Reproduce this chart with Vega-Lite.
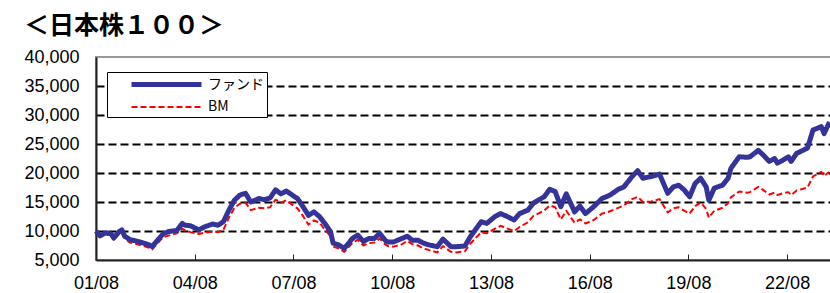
{
  "$schema": "https://vega.github.io/schema/vega-lite/v6.json",
  "width": 735,
  "height": 203,
  "autosize": "none",
  "padding": {"left": 96, "top": 57, "right": 0, "bottom": 33},
  "background": "white",
  "title": {"text": "＜日本株１００＞", "anchor": "start", "frame": "group", "dx": -72, "offset": -11, "baseline": "alphabetic", "font": "Noto Sans CJK JP", "fontSize": 25, "fontWeight": "bold", "color": "black"},
  "config": {"view": {"stroke": "#999999", "strokeWidth": 2}, "font": "Liberation Sans"},
  "datasets": {
    "fund": [
      {"d":"2001-08-01","v":10000},{"d":"2001-09-15","v":9150},{"d":"2001-11-15","v":9700},{"d":"2002-01-15","v":9500},{"d":"2002-02-15","v":8800},{"d":"2002-04-15","v":9900},{"d":"2002-05-15","v":10200},{"d":"2002-06-15","v":9100},{"d":"2002-08-15","v":8500},{"d":"2002-10-15","v":8300},{"d":"2003-01-15","v":7900},{"d":"2003-03-15","v":7600},{"d":"2003-04-15","v":7300},{"d":"2003-06-15","v":8400},{"d":"2003-08-15","v":9500},{"d":"2003-10-15","v":9900},{"d":"2004-01-15","v":10100},{"d":"2004-03-15","v":11300},{"d":"2004-04-15","v":11000},{"d":"2004-06-15","v":10900},{"d":"2004-09-15","v":10200},{"d":"2004-11-15","v":10700},{"d":"2005-02-15","v":11200},{"d":"2005-04-15","v":11000},{"d":"2005-06-15","v":11600},{"d":"2005-08-15","v":13600},{"d":"2005-10-15","v":15300},{"d":"2005-12-15","v":16200},{"d":"2006-02-15","v":16500},{"d":"2006-04-15","v":15000},{"d":"2006-07-15","v":15600},{"d":"2006-09-15","v":15400},{"d":"2006-11-15","v":15700},{"d":"2007-01-15","v":17100},{"d":"2007-03-15","v":16400},{"d":"2007-05-15","v":16900},{"d":"2007-08-15","v":15900},{"d":"2007-09-15","v":15600},{"d":"2007-11-15","v":14200},{"d":"2008-01-15","v":12700},{"d":"2008-03-15","v":13300},{"d":"2008-05-15","v":12500},{"d":"2008-07-15","v":11300},{"d":"2008-09-15","v":9900},{"d":"2008-10-15","v":7900},{"d":"2008-12-15","v":7600},{"d":"2009-02-15","v":7000},{"d":"2009-04-15","v":8100},{"d":"2009-05-15","v":8700},{"d":"2009-07-15","v":9300},{"d":"2009-09-15","v":8200},{"d":"2009-11-15","v":8700},{"d":"2010-01-15","v":8700},{"d":"2010-03-15","v":9600},{"d":"2010-05-15","v":8400},{"d":"2010-06-15","v":8100},{"d":"2010-08-15","v":8100},{"d":"2010-11-15","v":8700},{"d":"2011-01-15","v":9100},{"d":"2011-03-15","v":8400},{"d":"2011-05-15","v":8400},{"d":"2011-07-15","v":7900},{"d":"2011-09-15","v":7600},{"d":"2011-12-15","v":7300},{"d":"2012-02-15","v":8600},{"d":"2012-05-15","v":7300},{"d":"2012-07-15","v":7300},{"d":"2012-10-15","v":7400},{"d":"2012-12-15","v":9000},{"d":"2013-04-15","v":11600},{"d":"2013-06-15","v":11300},{"d":"2013-09-15","v":12500},{"d":"2013-11-15","v":13000},{"d":"2014-01-15","v":12600},{"d":"2014-04-15","v":11900},{"d":"2014-06-15","v":13000},{"d":"2014-09-15","v":13600},{"d":"2014-11-15","v":14800},{"d":"2015-03-15","v":15900},{"d":"2015-05-15","v":17200},{"d":"2015-07-15","v":16800},{"d":"2015-09-15","v":14200},{"d":"2015-11-15","v":16400},{"d":"2016-02-15","v":13300},{"d":"2016-04-15","v":14300},{"d":"2016-06-15","v":13000},{"d":"2016-09-15","v":14200},{"d":"2016-12-15","v":15600},{"d":"2017-03-15","v":16200},{"d":"2017-06-15","v":17200},{"d":"2017-08-15","v":17600},{"d":"2017-11-15","v":19400},{"d":"2018-01-15","v":20400},{"d":"2018-03-15","v":19100},{"d":"2018-06-15","v":19400},{"d":"2018-09-15","v":19800},{"d":"2018-12-15","v":16500},{"d":"2019-02-15","v":17600},{"d":"2019-04-15","v":17900},{"d":"2019-06-15","v":17100},{"d":"2019-08-15","v":15900},{"d":"2019-10-15","v":18200},{"d":"2019-12-15","v":19100},{"d":"2020-02-15","v":17600},{"d":"2020-03-15","v":15300},{"d":"2020-05-15","v":17400},{"d":"2020-08-15","v":17900},{"d":"2020-10-15","v":19100},{"d":"2020-11-15","v":20800},{"d":"2021-02-15","v":22800},{"d":"2021-05-15","v":22700},{"d":"2021-06-15","v":22800},{"d":"2021-09-15","v":23900},{"d":"2021-11-15","v":23000},{"d":"2022-01-15","v":22000},{"d":"2022-03-15","v":22500},{"d":"2022-04-15","v":21700},{"d":"2022-06-15","v":22200},{"d":"2022-08-15","v":22800},{"d":"2022-09-15","v":22000},{"d":"2022-11-15","v":23400},{"d":"2022-12-15","v":23600},{"d":"2023-03-15","v":24300},{"d":"2023-05-15","v":27400},{"d":"2023-08-15","v":28000},{"d":"2023-09-15","v":26800},{"d":"2023-11-15","v":28800}
    ],
    "bm": [
      {"d":"2001-08-01","v":9800},{"d":"2001-09-15","v":9000},{"d":"2001-11-15","v":9500},{"d":"2002-01-15","v":9200},{"d":"2002-02-15","v":8500},{"d":"2002-04-15","v":9600},{"d":"2002-05-15","v":9900},{"d":"2002-06-15","v":8700},{"d":"2002-08-15","v":8000},{"d":"2002-10-15","v":7800},{"d":"2003-01-15","v":7400},{"d":"2003-03-15","v":7100},{"d":"2003-04-15","v":6800},{"d":"2003-06-15","v":7900},{"d":"2003-08-15","v":8900},{"d":"2003-10-15","v":9200},{"d":"2004-01-15","v":9600},{"d":"2004-03-15","v":10400},{"d":"2004-04-15","v":10100},{"d":"2004-06-15","v":9800},{"d":"2004-09-15","v":9500},{"d":"2004-11-15","v":9700},{"d":"2005-02-15","v":9900},{"d":"2005-04-15","v":9800},{"d":"2005-06-15","v":10200},{"d":"2005-08-15","v":12300},{"d":"2005-10-15","v":14000},{"d":"2005-12-15","v":14700},{"d":"2006-02-15","v":14900},{"d":"2006-04-15","v":13600},{"d":"2006-07-15","v":14000},{"d":"2006-09-15","v":13900},{"d":"2006-11-15","v":14100},{"d":"2007-01-15","v":15400},{"d":"2007-03-15","v":14900},{"d":"2007-05-15","v":15300},{"d":"2007-08-15","v":14200},{"d":"2007-09-15","v":13900},{"d":"2007-11-15","v":12600},{"d":"2008-01-15","v":11100},{"d":"2008-03-15","v":11800},{"d":"2008-05-15","v":11500},{"d":"2008-07-15","v":10200},{"d":"2008-09-15","v":9100},{"d":"2008-10-15","v":7300},{"d":"2008-12-15","v":7000},{"d":"2009-02-15","v":6400},{"d":"2009-04-15","v":7400},{"d":"2009-05-15","v":7900},{"d":"2009-07-15","v":8500},{"d":"2009-09-15","v":7500},{"d":"2009-11-15","v":7900},{"d":"2010-01-15","v":8000},{"d":"2010-03-15","v":8700},{"d":"2010-05-15","v":7700},{"d":"2010-06-15","v":7400},{"d":"2010-08-15","v":7300},{"d":"2010-11-15","v":7700},{"d":"2011-01-15","v":8300},{"d":"2011-03-15","v":7700},{"d":"2011-05-15","v":7500},{"d":"2011-07-15","v":7000},{"d":"2011-09-15","v":6700},{"d":"2011-12-15","v":6300},{"d":"2012-02-15","v":7400},{"d":"2012-05-15","v":6400},{"d":"2012-07-15","v":6300},{"d":"2012-10-15","v":6500},{"d":"2012-12-15","v":7800},{"d":"2013-04-15","v":9800},{"d":"2013-06-15","v":9600},{"d":"2013-09-15","v":10400},{"d":"2013-11-15","v":10900},{"d":"2014-01-15","v":10500},{"d":"2014-04-15","v":10000},{"d":"2014-06-15","v":10700},{"d":"2014-09-15","v":11500},{"d":"2014-11-15","v":12600},{"d":"2015-03-15","v":13500},{"d":"2015-05-15","v":14400},{"d":"2015-07-15","v":14100},{"d":"2015-09-15","v":12000},{"d":"2015-11-15","v":13500},{"d":"2016-02-15","v":11400},{"d":"2016-04-15","v":12000},{"d":"2016-06-15","v":11300},{"d":"2016-09-15","v":11900},{"d":"2016-12-15","v":13000},{"d":"2017-03-15","v":13400},{"d":"2017-06-15","v":14000},{"d":"2017-08-15","v":14400},{"d":"2017-11-15","v":15500},{"d":"2018-01-15","v":15900},{"d":"2018-03-15","v":15000},{"d":"2018-06-15","v":15100},{"d":"2018-09-15","v":15500},{"d":"2018-12-15","v":13200},{"d":"2019-02-15","v":13900},{"d":"2019-04-15","v":14100},{"d":"2019-06-15","v":13500},{"d":"2019-08-15","v":13000},{"d":"2019-10-15","v":14300},{"d":"2019-12-15","v":14900},{"d":"2020-02-15","v":13800},{"d":"2020-03-15","v":12300},{"d":"2020-05-15","v":13500},{"d":"2020-08-15","v":14000},{"d":"2020-10-15","v":14800},{"d":"2020-11-15","v":15800},{"d":"2021-02-15","v":16800},{"d":"2021-05-15","v":16600},{"d":"2021-06-15","v":16700},{"d":"2021-09-15","v":17600},{"d":"2021-11-15","v":17000},{"d":"2022-01-15","v":16300},{"d":"2022-03-15","v":16600},{"d":"2022-04-15","v":16200},{"d":"2022-06-15","v":16500},{"d":"2022-08-15","v":16700},{"d":"2022-09-15","v":16200},{"d":"2022-11-15","v":17000},{"d":"2022-12-15","v":17100},{"d":"2023-03-15","v":17500},{"d":"2023-05-15","v":19400},{"d":"2023-08-15","v":20200},{"d":"2023-09-15","v":19500},{"d":"2023-11-15","v":20200}
    ]
  },
  "encoding": {
    "x": {"field": "d", "type": "temporal",
      "scale": {"domain": [{"year": 2001, "month": 8, "date": 1}, {"year": 2023, "month": 12, "date": 1}]},
      "axis": {"title": null, "values": [{"year": 2001, "month": 8, "date": 1}, {"year": 2004, "month": 8, "date": 1}, {"year": 2007, "month": 8, "date": 1}, {"year": 2010, "month": 8, "date": 1}, {"year": 2013, "month": 8, "date": 1}, {"year": 2016, "month": 8, "date": 1}, {"year": 2019, "month": 8, "date": 1}, {"year": 2022, "month": 8, "date": 1}],
        "format": "%y/%m", "grid": false, "domainColor": "#222222", "domainWidth": 2, "tickColor": "#222222", "tickSize": -6, "tickWidth": 1, "labelPadding": 20, "labelFontSize": 18, "labelColor": "black", "labelFont": "Liberation Sans", "labelFlush": false}},
    "y": {"field": "v", "type": "quantitative",
      "scale": {"domain": [5000, 40000], "nice": false, "zero": false},
      "axis": {"title": null, "values": [5000, 10000, 15000, 20000, 25000, 30000, 35000, 40000], "format": ",.0f", "ticks": false, "labelPadding": 17, "labelFontSize": 18, "labelColor": "black", "labelFont": "Liberation Sans", "domainColor": "#222222", "domainWidth": 2,
        "grid": true, "gridColor": "black", "gridWidth": 2, "gridDash": [8, 4],
        "gridOpacity": {"condition": {"test": "datum.value == 5000 || datum.value == 40000", "value": 0}, "value": 1}}},
    "color": {"scale": {"domain": ["ファンド", "BM"], "range": ["#333399", "#FF0000"]},
      "legend": {"title": null, "orient": "none", "legendX": 11, "legendY": 15, "direction": "vertical", "fillColor": "white", "strokeColor": "black", "padding": 3, "symbolType": "M-5,0H5", "symbolSize": 196, "symbolOffset": 47, "labelFont": "Noto Sans CJK JP", "labelFontSize": 14, "labelColor": "black", "rowPadding": 4, "labelOffset": 32}},
    "strokeDash": {"scale": {"domain": ["ファンド", "BM"], "range": [[1, 0], [6, 3]]}, "legend": null},
    "strokeWidth": {"scale": {"domain": ["ファンド", "BM"], "range": [5, 2]}, "legend": null}
  },
  "layer": [
    {"data": {"name": "bm"}, "mark": {"type": "line", "strokeJoin": "round"},
      "encoding": {"color": {"datum": "BM"}, "strokeDash": {"datum": "BM"}, "strokeWidth": {"datum": "BM"}}},
    {"data": {"name": "fund"}, "mark": {"type": "line", "strokeJoin": "round"},
      "encoding": {"color": {"datum": "ファンド"}, "strokeDash": {"datum": "ファンド"}, "strokeWidth": {"datum": "ファンド"}}}
  ]
}
